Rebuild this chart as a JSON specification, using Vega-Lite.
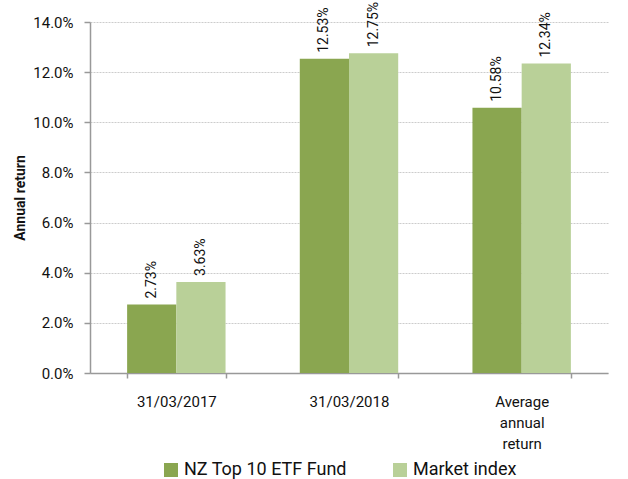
{
  "$schema": "https://vega.github.io/schema/vega-lite/v6.json",
  "width": 518,
  "height": 351,
  "autosize": {"type": "none"},
  "padding": {"left": 90, "top": 22, "right": 20, "bottom": 106},
  "background": "white",
  "config": {
    "font": "Roboto",
    "view": {"stroke": null}
  },
  "data": {
    "values": [
      {"period": "31/03/2017", "series": "NZ Top 10 ETF Fund", "value": 0.0273},
      {"period": "31/03/2017", "series": "Market index", "value": 0.0363},
      {"period": "31/03/2018", "series": "NZ Top 10 ETF Fund", "value": 0.1253},
      {"period": "31/03/2018", "series": "Market index", "value": 0.1275},
      {"period": "Average annual return", "series": "NZ Top 10 ETF Fund", "value": 0.1058},
      {"period": "Average annual return", "series": "Market index", "value": 0.1234}
    ]
  },
  "encoding": {
    "x": {
      "field": "period",
      "type": "nominal",
      "sort": null,
      "scale": {"paddingInner": 0.43, "paddingOuter": 0.215},
      "axis": {
        "title": null,
        "labelAngle": 0,
        "labelFontSize": 15,
        "labelColor": "#111",
        "labelPadding": 16,
        "labelLineHeight": 21,
        "labelBaseline": "top",
        "labelExpr": "datum.label == 'Average annual return' ? ['Average','annual','return'] : datum.label",
        "tickBand": "extent",
        "tickSize": 5,
        "tickColor": "#999",
        "domainColor": "#999",
        "domainWidth": 1.5,
        "tickWidth": 1.5
      }
    },
    "xOffset": {"field": "series", "type": "nominal", "sort": ["NZ Top 10 ETF Fund", "Market index"], "scale": {"paddingInner": 0, "paddingOuter": 0}},
    "y": {
      "field": "value",
      "type": "quantitative",
      "scale": {"domain": [0, 0.14], "nice": false},
      "axis": {
        "title": "Annual return",
        "titleFontSize": 14,
        "titleFontWeight": "bold",
        "titleColor": "#111",
        "titlePadding": 5,
        "format": ".1%",
        "values": [0, 0.02, 0.04, 0.06, 0.08, 0.1, 0.12, 0.14],
        "labelOverlap": false,
        "labelFontSize": 15,
        "labelColor": "#111",
        "labelPadding": 11,
        "tickSize": 6,
        "tickColor": "#999",
        "tickWidth": 1.5,
        "domainColor": "#999",
        "domainWidth": 1.5,
        "gridColor": "#cccccc",
        "gridDash": [2, 1],
        "gridWidth": 1
      }
    }
  },
  "layer": [
    {
      "mark": {"type": "bar"},
      "encoding": {
        "color": {
          "field": "series",
          "type": "nominal",
          "sort": ["NZ Top 10 ETF Fund", "Market index"],
          "scale": {"domain": ["NZ Top 10 ETF Fund", "Market index"], "range": ["#8aa650", "#b9d098"]},
          "legend": {
            "title": null,
            "orient": "none",
            "direction": "horizontal",
            "legendX": 72,
            "legendY": 439,
            "symbolType": "square",
            "symbolSize": 196,
            "symbolStrokeWidth": 0,
            "labelFontSize": 18,
            "labelLimit": 400,
            "labelColor": "#111",
            "columnPadding": 44,
            "labelOffset": 4
          }
        }
      }
    },
    {
      "mark": {"type": "text", "angle": 270, "align": "left", "baseline": "middle", "dx": 6, "fontSize": 14, "color": "#111"},
      "encoding": {
        "text": {"field": "value", "type": "quantitative", "format": ".2%"}
      }
    }
  ]
}
